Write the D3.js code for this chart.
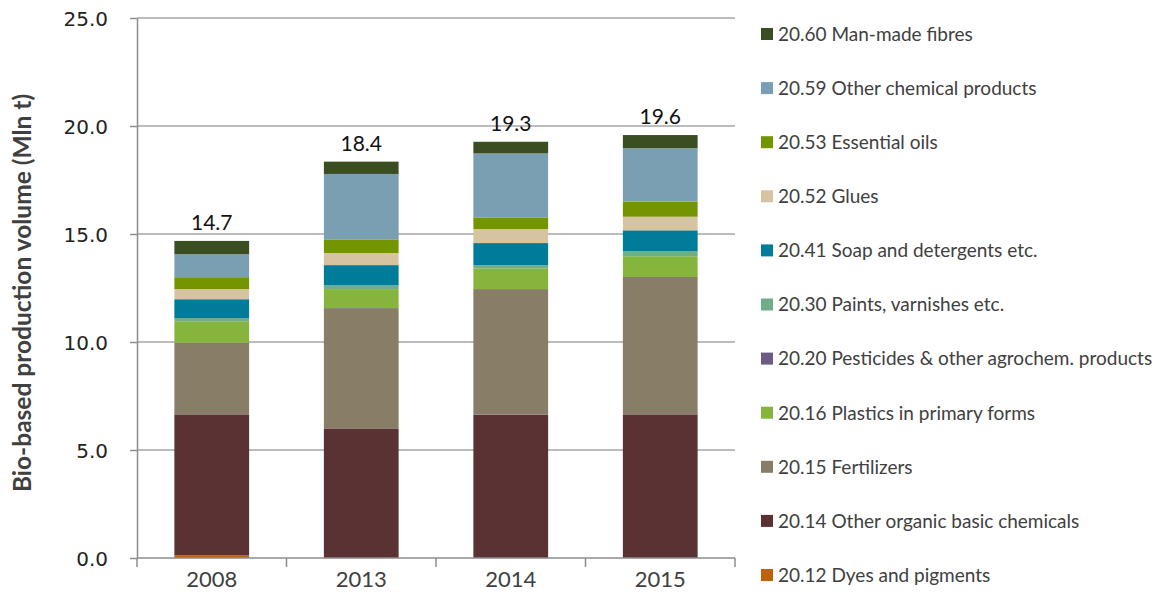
<!DOCTYPE html>
<head>
    <meta charset="utf-8">
    <title>Bio-based production volume</title>
</head>
<style>
    body { margin: 0; background: #fff; }
    svg { display: block; }
    .grid line { stroke: #a6a6a6; stroke-width: 1.5px; }
    .axis path, .axis line { stroke: #8c8c8c; stroke-width: 1.5px; }
    .ytick { font-family: "DejaVu Sans", Verdana, sans-serif; font-size: 20px; fill: #222; }
    .xtick { font-family: Lato, sans-serif; font-size: 22px; fill: #404040; }
    .total { font-family: Lato, sans-serif; font-size: 21px; fill: #111; }
    .legend text { font-family: Lato, sans-serif; font-size: 19px; fill: #404040; }
    .title { font-family: Lato, sans-serif; font-size: 24.5px; font-weight: bold; fill: #404040; }
</style>
<body>
<script src="https://d3js.org/d3.v7.min.js"></script>
<script>
    var width = 1164,
        height = 607;

    var years = ["2008", "2013", "2014", "2015"];

    // series from bottom to top of the stack
    var seriesNames = [
        "20.12 Dyes and pigments",
        "20.14 Other organic basic chemicals",
        "20.15 Fertilizers",
        "20.16 Plastics in primary forms",
        "20.20 Pesticides & other agrochem. products",
        "20.30 Paints, varnishes etc.",
        "20.41 Soap and detergents etc.",
        "20.52 Glues",
        "20.53 Essential oils",
        "20.59 Other chemical products",
        "20.60 Man-made fibres"
    ];
    var seriesColors = ["#c0600a", "#5a3234", "#887e68", "#86b53e", "#6d5a85", "#72ad8a",
                        "#007c9b", "#d6c4a0", "#739600", "#7a9fb3", "#3a4e22"];

    // values per year (Mln t), same order as years
    var dyes       = [0.12, 0.00, 0.00, 0.00];
    var organic    = [6.53, 6.00, 6.64, 6.65];
    var fertilizer = [3.32, 5.57, 5.81, 6.36];
    var plastics   = [0.99, 0.88, 0.96, 0.96];
    var pesticides = [0.00, 0.00, 0.00, 0.00];
    var paints     = [0.15, 0.17, 0.15, 0.24];
    var soap       = [0.87, 0.94, 1.02, 0.96];
    var glues      = [0.47, 0.56, 0.65, 0.63];
    var oils       = [0.55, 0.63, 0.54, 0.70];
    var otherChem  = [1.06, 3.03, 2.96, 2.47];
    var fibres     = [0.62, 0.57, 0.54, 0.61];
    var totals     = ["14.7", "18.4", "19.3", "19.6"];

    var yTicks = [0, 5, 10, 15, 20, 25];

    var seriesValues = [dyes, organic, fertilizer, plastics, pesticides, paints,
                        soap, glues, oils, otherChem, fibres];

    var table = years.map(function (yr, i) {
        var row = { year: yr };
        seriesNames.forEach(function (s, j) { row[s] = seriesValues[j][i]; });
        return row;
    });

    var plotLeft = 137, plotRight = 735, plotTop = 18, plotBottom = 558;

    var svg = d3.select("body").append("svg")
        .attr("width", width)
        .attr("height", height);

    var x = d3.scaleBand()
        .domain(years)
        .range([plotLeft, plotRight])
        .paddingInner(0.5)
        .paddingOuter(0.25);

    var y = d3.scaleLinear()
        .domain([0, 25])
        .range([plotBottom, plotTop]);

    // gridlines
    svg.append("g")
        .attr("class", "grid")
        .selectAll("line")
        .data(yTicks.slice(1))
        .join("line")
        .attr("x1", plotLeft).attr("x2", plotRight)
        .attr("y1", function (d) { return y(d); })
        .attr("y2", function (d) { return y(d); });

    var stack = d3.stack().keys(seriesNames);
    var layers = stack(table);

    svg.append("g").selectAll("g")
        .data(layers)
        .join("g")
        .attr("fill", function (d, i) { return seriesColors[i]; })
        .selectAll("rect")
        .data(function (d) { return d; })
        .join("rect")
        .attr("x", function (d) { return x(d.data.year); })
        .attr("width", x.bandwidth())
        .attr("y", function (d) { return y(d[1]); })
        .attr("height", function (d) { return y(d[0]) - y(d[1]); });

    // totals above bars
    var topLayer = layers[layers.length - 1];
    svg.append("g").selectAll("text")
        .data(topLayer)
        .join("text")
        .attr("class", "total")
        .attr("x", function (d) { return x(d.data.year) + x.bandwidth() / 2; })
        .attr("y", function (d) { return y(d[1]) - 11; })
        .attr("text-anchor", "middle")
        .text(function (d, i) { return totals[i]; });

    // y axis
    var yAxis = svg.append("g")
        .attr("class", "axis")
        .attr("transform", "translate(" + plotLeft + ",0)")
        .call(d3.axisLeft(y).tickValues(yTicks).tickSize(7).tickSizeOuter(0).tickFormat(d3.format(".1f")));
    yAxis.selectAll("text").attr("class", "ytick").attr("x", -29).attr("dy", "0.36em");

    // x axis with ticks between categories
    var xAxis = svg.append("g").attr("class", "axis");
    xAxis.append("line")
        .attr("x1", plotLeft).attr("x2", plotRight)
        .attr("y1", plotBottom).attr("y2", plotBottom);
    var bounds = d3.range(years.length + 1).map(function (i) { return plotLeft + i * x.step(); });
    xAxis.selectAll("line.t")
        .data(bounds)
        .join("line")
        .attr("class", "t")
        .attr("x1", function (d) { return d; }).attr("x2", function (d) { return d; })
        .attr("y1", plotBottom).attr("y2", plotBottom + 9);
    xAxis.selectAll("text")
        .data(years)
        .join("text")
        .attr("class", "xtick")
        .attr("x", function (d) { return x(d) + x.bandwidth() / 2; })
        .attr("y", 587)
        .attr("text-anchor", "middle")
        .text(function (d) { return d; });

    // axis title
    svg.append("text")
        .attr("class", "title")
        .attr("transform", "translate(31," + ((plotTop + plotBottom) / 2 + 5) + ") rotate(-90)")
        .attr("text-anchor", "middle")
        .text("Bio-based production volume (Mln t)");

    // legend, top entry is the top of the stack
    var legendItems = seriesNames.slice().reverse();
    var legendColors = seriesColors.slice().reverse();
    var legend = svg.append("g").attr("class", "legend");
    var item = legend.selectAll("g")
        .data(legendItems)
        .join("g")
        .attr("transform", function (d, i) { return "translate(761," + (34 + i * 54.1) + ")"; });
    item.append("rect")
        .attr("x", 0).attr("y", -6)
        .attr("width", 12).attr("height", 12)
        .attr("fill", function (d, i) { return legendColors[i]; });
    item.append("text")
        .attr("x", 17)
        .attr("dy", "0.36em")
        .text(function (d) { return d; });
</script>
</body>
